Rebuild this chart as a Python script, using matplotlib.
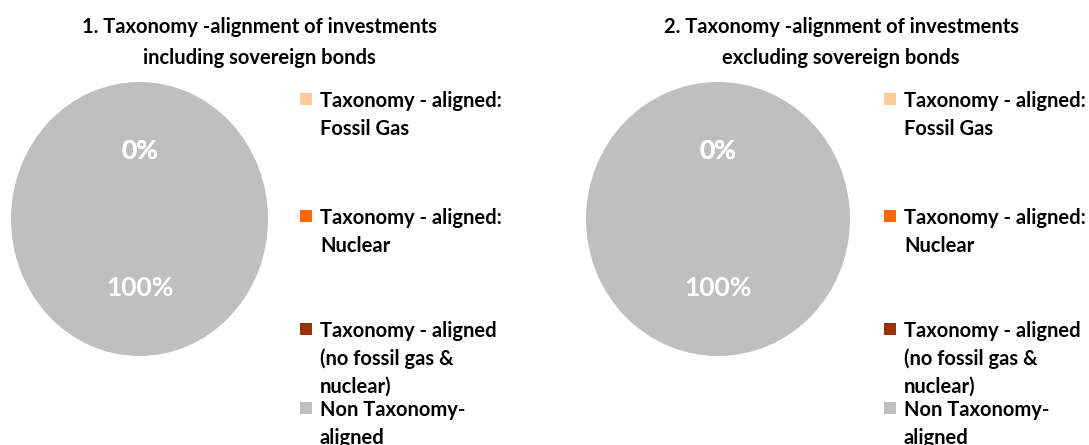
import matplotlib
matplotlib.use("Agg")
import matplotlib.pyplot as plt
from matplotlib.patches import Rectangle

W, H = 1089, 445

categories = ["Taxonomy - aligned:\nFossil Gas",
              "Taxonomy - aligned:\nNuclear",
              "Taxonomy - aligned\n(no fossil gas &\nnuclear)",
              "Non Taxonomy-\naligned"]
colors = ["#FFCC99", "#FF6600", "#993300", "#BFBFBF"]
values_incl = [0, 0, 0, 100]
values_excl = [0, 0, 0, 100]
titles = ["1. Taxonomy -alignment of investments\nincluding sovereign bonds",
          "2. Taxonomy -alignment of investments\nexcluding sovereign bonds"]

FONT = "Lato"
plt.rcParams['font.family'] = [FONT, 'DejaVu Sans']

fig = plt.figure(figsize=(W / 100, H / 100), dpi=100)
fig.patch.set_facecolor("white")


def fx(px):
    return px / W


def fy(py):
    return 1 - py / H


# panel layout in pixels: pie box (left, top, right, bottom), title centre x, legend square x, text x
panels = [
    dict(values=values_incl, title=titles[0], box=(11, 82, 268, 356), tx=259, sqx=300, txtx=320),
    dict(values=values_excl, title=titles[1], box=(586, 82, 850, 356), tx=841, sqx=884, txtx=904),
]

legend_tops = [93, 210, 323, 402]
SQ = 12

for p in panels:
    l, t, r, b = p["box"]
    ax = fig.add_axes([fx(l), fy(b), fx(r - l), (b - t) / H])
    ax.pie(p["values"], colors=colors, startangle=90, counterclock=False,
           autopct=lambda v: f"{v:.0f}%", pctdistance=0.5,
           textprops=dict(color="white", fontsize=19, fontweight="bold"),
           wedgeprops=dict(linewidth=0))
    ax.set_aspect("auto")
    ax.set_xlim(-1, 1)
    ax.set_ylim(-1, 1)
    ax.axis("off")

    fig.text(fx(p["tx"]), fy(17), p["title"], ha="center", va="top",
             fontsize=14.5, fontweight="bold", color="#000000", linespacing=1.7)

    for i, (lab, c) in enumerate(zip(categories, colors)):
        top = legend_tops[i]
        fig.patches.append(Rectangle((fx(p["sqx"]), fy(top + SQ)), SQ / W, SQ / H,
                                     transform=fig.transFigure, facecolor=c,
                                     edgecolor="none"))
        fig.text(fx(p["txtx"]), fy(top - 2), lab, ha="left", va="top",
                 fontsize=14.5, fontweight="bold", color="#000000", linespacing=1.47)

fig.savefig("out.png", dpi=100, facecolor="white")
